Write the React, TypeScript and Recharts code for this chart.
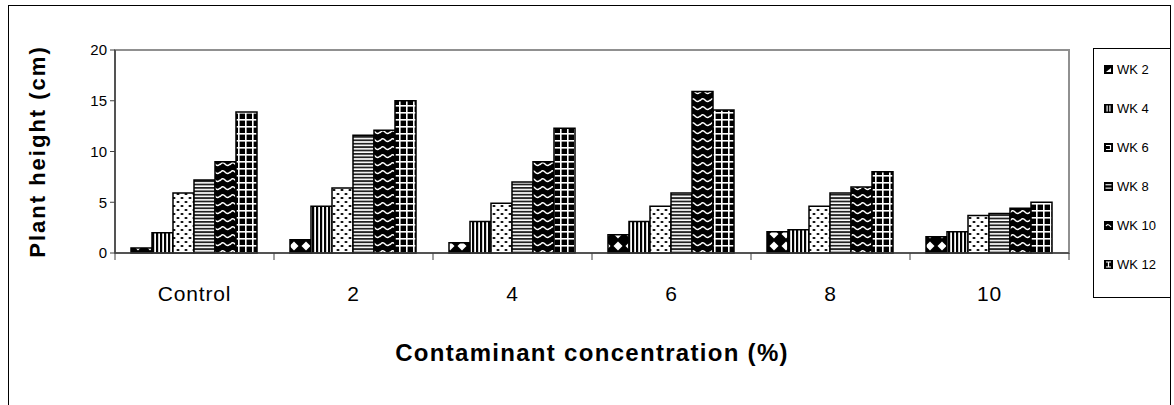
import React from 'react';
import { BarChart, Bar, XAxis, YAxis, Legend, ReferenceArea } from 'recharts';

const categories = ['Control', '2', '4', '6', '8', '10'];
const wk2 = [0.5, 1.3, 1.0, 1.8, 2.1, 1.6];
const wk4 = [2.0, 4.6, 3.1, 3.1, 2.3, 2.1];
const wk6 = [5.9, 6.4, 4.9, 4.6, 4.6, 3.7];
const wk8 = [7.2, 11.6, 7.0, 5.9, 5.9, 3.9];
const wk10 = [9.0, 12.1, 9.0, 15.9, 6.5, 4.4];
const wk12 = [13.9, 15.0, 12.3, 14.1, 8.0, 5.0];
const seriesKeys = ['wk2', 'wk4', 'wk6', 'wk8', 'wk10', 'wk12'];
const seriesNames = ['WK 2', 'WK 4', 'WK 6', 'WK 8', 'WK 10', 'WK 12'];
const yTicks = [0, 5, 10, 15, 20];

const data = categories.map((c, i) => ({
  cat: c,
  wk2: wk2[i],
  wk4: wk4[i],
  wk6: wk6[i],
  wk8: wk8[i],
  wk10: wk10[i],
  wk12: wk12[i],
}));

const FONT = '"Liberation Sans", Arial, sans-serif';
const X_TICK_SIZE = 6;
const X_TICK_MARGIN = 27;

const Patterns = () => (
  <svg width={0} height={0} style={{ position: 'absolute' }}>
    <defs>
      <pattern id="p-wk2" patternUnits="userSpaceOnUse" width={12} height={12}>
        <rect width={12} height={12} fill="#000" />
        <polygon points="6,1.5 10.5,6 6,10.5 1.5,6" fill="#fff" />
      </pattern>
      <pattern id="p-wk4" patternUnits="userSpaceOnUse" width={4} height={4}>
        <rect width={4} height={4} fill="#fff" />
        <rect x={0} y={0} width={2.2} height={4} fill="#000" />
      </pattern>
      <pattern id="p-wk6" patternUnits="userSpaceOnUse" width={8} height={8}>
        <rect width={8} height={8} fill="#fff" />
        <ellipse cx={2} cy={2} rx={1.6} ry={1.1} fill="#000" />
        <ellipse cx={6} cy={6} rx={1.6} ry={1.1} fill="#000" />
      </pattern>
      <pattern id="p-wk8" patternUnits="userSpaceOnUse" width={4} height={3.4}>
        <rect width={4} height={3.4} fill="#fff" />
        <rect x={0} y={0} width={4} height={1.8} fill="#222" />
      </pattern>
      <pattern id="p-wk10" patternUnits="userSpaceOnUse" width={10} height={8}>
        <rect width={10} height={8} fill="#000" />
        <path d="M0,5 Q2.5,1 5,4 T10,4" stroke="#fff" strokeWidth={1.4} fill="none" />
      </pattern>
      <pattern id="p-wk12" patternUnits="userSpaceOnUse" width={7} height={7}>
        <rect width={7} height={7} fill="#000" />
        <rect x={0} y={0} width={1.6} height={7} fill="#fff" />
        <rect x={0} y={0} width={7} height={1.6} fill="#fff" />
      </pattern>
    </defs>
  </svg>
);

const LegendIcon = ({ idx }: { idx: number }) => {
  const marks: Record<number, React.ReactNode> = {
    0: <polygon points="2,7 7,7 7,3" fill="#fff" />,
    1: (
      <g fill="#fff">
        <rect x={2.5} y={1.5} width={1.2} height={6} />
        <rect x={5.3} y={1.5} width={1.2} height={6} />
      </g>
    ),
    2: <path d="M2,2.5 H6.5 V6.5 H2" stroke="#fff" strokeWidth={1.2} fill="none" />,
    3: (
      <g fill="#fff">
        <rect x={1.5} y={2.2} width={6} height={1.1} />
        <rect x={1.5} y={5.6} width={6} height={1.1} />
      </g>
    ),
    4: <path d="M2,5 Q4,2 7,6" stroke="#fff" strokeWidth={1.2} fill="none" />,
    5: <path d="M2,2 H7 M4.5,2 V7 M2,7 H7" stroke="#fff" strokeWidth={1.2} fill="none" />,
  };
  return (
    <svg width={9} height={9} style={{ display: 'block' }}>
      <rect x={0.5} y={0.5} width={8} height={8} fill="#000" stroke="#000" />
      {marks[idx]}
    </svg>
  );
};

const renderLegend = () => {
  return (
    <div
      style={{
        boxSizing: 'border-box',
        width: '100%',
        height: '100%',
        border: '1px solid #000',
        background: '#fff',
        paddingTop: 1,
        paddingLeft: 10,
      }}
    >
      {seriesKeys.map((k, idx) => (
        <div
          key={k}
          style={{ display: 'flex', alignItems: 'center', height: 39, fontFamily: FONT, fontSize: 13, color: '#000' }}
        >
          <LegendIcon idx={idx} />
          <span style={{ marginLeft: 4 }}>{seriesNames[idx]}</span>
        </div>
      ))}
    </div>
  );
};

const CategoryTick = (props: any) => {
  const { x, y, payload, index } = props;
  const half = payload && payload.offset ? payload.offset : 0;
  const axisY = y - X_TICK_SIZE - X_TICK_MARGIN;
  const isLast = index === categories.length - 1;
  return (
    <g>
      <line x1={x - half} y1={axisY} x2={x - half} y2={axisY + 7} stroke="#404040" strokeWidth={1} />
      {isLast && (
        <line x1={x + half} y1={axisY} x2={x + half} y2={axisY + 7} stroke="#404040" strokeWidth={1} />
      )}
      <text
        x={x}
        y={y}
        dy="0.71em"
        textAnchor="middle"
        fontFamily={FONT}
        fontSize={21}
        letterSpacing={0.8}
        fill="#000"
      >
        {payload.value}
      </text>
    </g>
  );
};

const YTitle = (props: any) => {
  const vb = props.viewBox;
  const x = vb.x - 38;
  const y = vb.y + vb.height / 2;
  return (
    <text
      x={x}
      y={y}
      transform={`rotate(-90, ${x}, ${y})`}
      textAnchor="middle"
      dominantBaseline="central"
      fontFamily={FONT}
      fontWeight="bold"
      fontSize={22}
      letterSpacing={2}
      fill="#000"
    >
      Plant height (cm)
    </text>
  );
};

const XTitle = (props: any) => {
  const vb = props.viewBox;
  const x = vb.x + vb.width / 2;
  const y = 352;
  return (
    <text
      x={x}
      y={y}
      textAnchor="middle"
      dominantBaseline="central"
      fontFamily={FONT}
      fontWeight="bold"
      fontSize={24}
      letterSpacing={1.3}
      fill="#000"
    >
      Contaminant concentration (%)
    </text>
  );
};

export default function App() {
  return (
    <div style={{ position: 'absolute', left: 0, top: 0, width: 1174, height: 405, background: '#fff', overflow: 'hidden' }}>
      <Patterns />
      <div
        style={{
          position: 'absolute',
          left: 8,
          top: 5,
          width: 1163,
          height: 420,
          border: '1px solid #000',
          boxSizing: 'border-box',
        }}
      />
      <div style={{ position: 'absolute', left: 0, top: 0 }}>
        <BarChart
          width={1174}
          height={405}
          data={data}
          margin={{ top: 50, right: 105, left: 75, bottom: 92 }}
          barGap={0}
          barCategoryGap={16}
        >
          <ReferenceArea
            xAxisId="b"
            yAxisId="l"
            x1="Control"
            x2="10"
            y1={0}
            y2={20}
            fill="none"
            fillOpacity={0}
            stroke="#909090"
            strokeWidth={2}
          />
          <XAxis
            xAxisId="b"
            dataKey="cat"
            height={60}
            axisLine={{ stroke: '#404040', strokeWidth: 1.5 }}
            tickLine={false}
            tickSize={X_TICK_SIZE}
            tickMargin={X_TICK_MARGIN}
            tick={<CategoryTick />}
            interval={0}
            label={<XTitle />}
          />
          <YAxis
            yAxisId="l"
            domain={[0, 20]}
            ticks={yTicks}
            width={40}
            tickSize={5}
            tickMargin={3}
            tickLine={{ stroke: '#404040' }}
            axisLine={{ stroke: '#404040', strokeWidth: 1.5 }}
            tick={{ fontFamily: FONT, fontSize: 15, fill: '#000' }}
            label={<YTitle />}
          />
          <Legend
            layout="vertical"
            align="center"
            verticalAlign="middle"
            content={renderLegend}
            wrapperStyle={{ left: 1093, top: 48, width: 78, height: 250 }}
          />
          {seriesKeys.map((k, i) => (
            <Bar
              key={k}
              dataKey={k}
              name={seriesNames[i]}
              xAxisId="b"
              yAxisId="l"
              fill={`url(#p-${k})`}
              stroke="#000"
              strokeWidth={1.5}
              isAnimationActive={false}
            />
          ))}
        </BarChart>
      </div>
    </div>
  );
}
